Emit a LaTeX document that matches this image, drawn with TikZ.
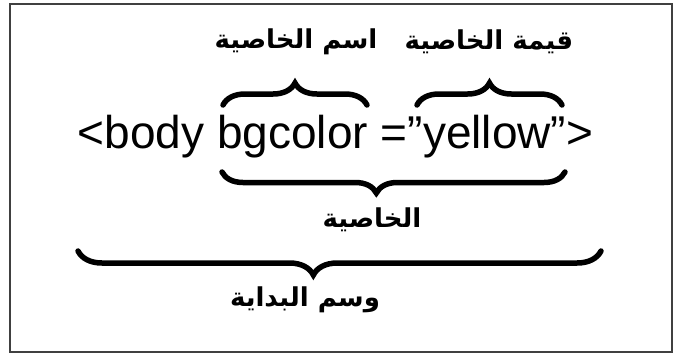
\documentclass[tikz,border=0pt]{standalone}
\usepackage{fontspec}
\setmainfont{Liberation Sans}
\newfontfamily\arabicfont[Script=Arabic]{DejaVu Sans}
\TeXXeTstate=1
\usetikzlibrary{decorations.pathreplacing, positioning}
\tikzstyle{frame} = [line width=2.5pt, draw=black!75]
\tikzstyle{curly} = [decorate, line width=5.5pt, line cap=round, decoration={brace, amplitude=22pt}]
\tikzstyle{arlabel} = [inner sep=0pt, font=\arabicfont\bfseries\fontsize{26}{30}\selectfont]
\tikzstyle{code} = [inner sep=0pt, anchor=base, font=\fontsize{46}{55}\selectfont]

\begin{document}
\begin{tikzpicture}[x=1pt, y=-1pt]
		\useasboundingbox (0,0) rectangle (675,354);
		\draw[frame] (10,4) rectangle (672,352);

		\node (Tag) [code] at (335.5,148) {<body bgcolor =”yellow”>};

		\coordinate (NameLeft) at (223,105);
		\coordinate (NameRight) at (367,105);
		\coordinate (ValueLeft) at (417,105);
		\coordinate (ValueRight) at (562,105);
		\coordinate (AttrLeft) at (222,172);
		\coordinate (AttrRight) at (565,172);
		\coordinate (StartLeft) at (78,251);
		\coordinate (StartRight) at (601,251);

		\draw [curly] (NameLeft) -- (NameRight);
		\draw [curly] (ValueLeft) -- (ValueRight);
		\draw [curly, decoration={mirror, amplitude=21pt, aspect=0.45}] (AttrLeft) -- (AttrRight);
		\draw [curly, decoration={mirror, amplitude=24pt, aspect=0.45}] (StartLeft) -- (StartRight);

		\node (NameLabel) [arlabel] at (296,42) {\beginR اسم الخاصية\endR};
		\node (ValueLabel) [arlabel] at (489,42) {\beginR قيمة الخاصية\endR};
		\node (AttrLabel) [arlabel] at (372,220) {\beginR الخاصية\endR};
		\node (StartLabel) [arlabel] at (305,300) {\beginR وسم البداية\endR};
\end{tikzpicture}
\end{document}
